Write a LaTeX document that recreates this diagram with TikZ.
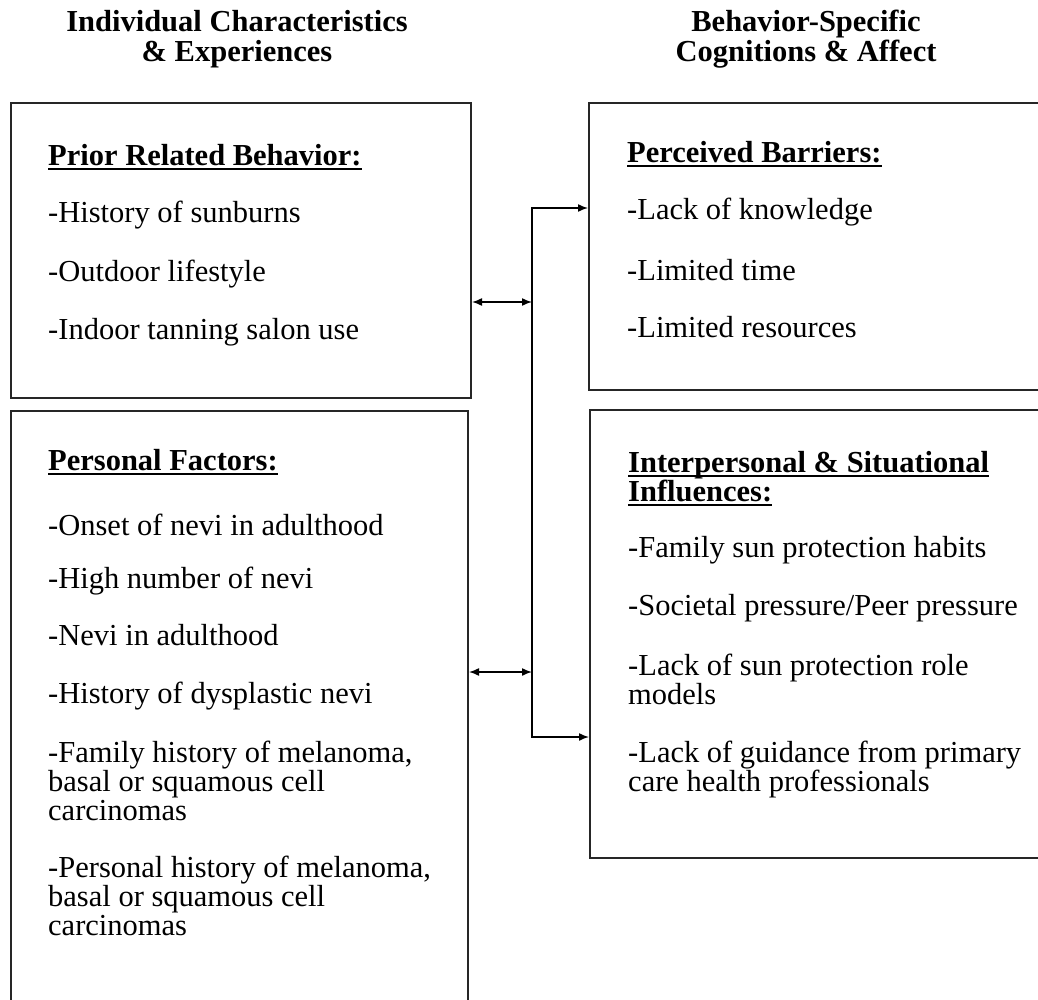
\documentclass[tikz,border=0pt]{standalone}
\usepackage{fontspec}
\setmainfont{Liberation Serif}
\usetikzlibrary{arrows.meta}
\newcommand\hdul[1]{\setbox0=\hbox{#1}\rlap{\rule[-4.5pt]{\wd0}{2pt}}\box0}
\newcommand\lines[1]{\vtop{\baselineskip=29pt\lineskiplimit=-100pt #1}}
\begin{document}
\begin{tikzpicture}[x=1pt,y=-1pt,
  box/.style={draw=black!85, line width=2pt, inner sep=0pt, anchor=north west},
  txt/.style={anchor=base west, inner sep=0pt, font=\fontsize{30.5}{29}\selectfont},
  hd/.style={anchor=base west, inner sep=0pt, font=\fontsize{30.5}{29}\selectfont\bfseries},
  ttl/.style={anchor=base, inner sep=0pt, font=\fontsize{30.5}{30}\selectfont\bfseries},
  con/.style={line width=1.5pt},
  tips/.style={con, {Latex[length=10pt,width=8pt]}-{Latex[length=10pt,width=8pt]}}]
\useasboundingbox (0,0) rectangle (1038,1000);
\clip (0,0) rectangle (1038,1000);

% titles
\node[ttl] (t1a) at (237,32) {Individual Characteristics};
\node[ttl] (t1b) at (237,62) {\& Experiences};
\node[ttl] (t2a) at (806,32) {Behavior-Specific};
\node[ttl] (t2b) at (806,62) {Cognitions \& Affect};

% boxes
\node[box, minimum width=460pt, minimum height=295pt] (A) at (10,102) {};
\node[box, minimum width=457pt, minimum height=620pt] (B) at (10,410) {};
\node[box, minimum width=470pt, minimum height=287pt] (C) at (588,102) {};
\node[box, minimum width=470pt, minimum height=448pt] (D) at (589,409) {};

% box A text
\node[hd] (ah) at (48,166) {\hdul{Prior Related Behavior:}};
\node[txt] (a1) at (48,223) {-History of sunburns};
\node[txt] (a2) at (48,281) {-Outdoor lifestyle};
\node[txt] (a3) at (48,339) {-Indoor tanning salon use};

% box C text
\node[hd] (ch) at (627,163) {\hdul{Perceived Barriers:}};
\node[txt] (c1) at (627,220) {-Lack of knowledge};
\node[txt] (c2) at (627,280) {-Limited time};
\node[txt] (c3) at (627,337) {-Limited resources};

% box B text
\node[hd] (bh) at (48,470) {\hdul{Personal Factors:}};
\node[txt] (b1) at (48,535) {-Onset of nevi in adulthood};
\node[txt] (b2) at (48,588) {-High number of nevi};
\node[txt] (b3) at (48,645) {-Nevi in adulthood};
\node[txt] (b4) at (48,703) {-History of dysplastic nevi};
\node[txt] (b5) at (48,762) {\lines{\hbox{-Family history of melanoma,}\hbox{basal or squamous cell}\hbox{carcinomas}}};
\node[txt] (b6) at (48,877) {\lines{\hbox{-Personal history of melanoma,}\hbox{basal or squamous cell}\hbox{carcinomas}}};

% box D text
\node[hd] (dh) at (628,472) {\lines{\hbox{\hdul{Interpersonal \& Situational}}\hbox{\hdul{Influences:}}}};
\node[txt] (d1) at (628,557) {-Family sun protection habits};
\node[txt] (d2) at (628,615) {-Societal pressure/Peer pressure};
\node[txt] (d3) at (628,675) {\lines{\hbox{-Lack of sun protection role}\hbox{models}}};
\node[txt] (d4) at (628,762) {\lines{\hbox{-Lack of guidance from primary}\hbox{care health professionals}}};

% connectors
\coordinate (jt) at (532,208);
\coordinate (j1) at (532,302);
\coordinate (j2) at (532,672);
\coordinate (jb) at (532,737);
\draw[tips] (jt -| C.west) -- (jt) -- (jb) -- (jb -| D.west);
\draw[tips] (j1 -| A.east) -- (j1);
\draw[tips] (j2 -| B.east) -- (j2);
\end{tikzpicture}
\end{document}
